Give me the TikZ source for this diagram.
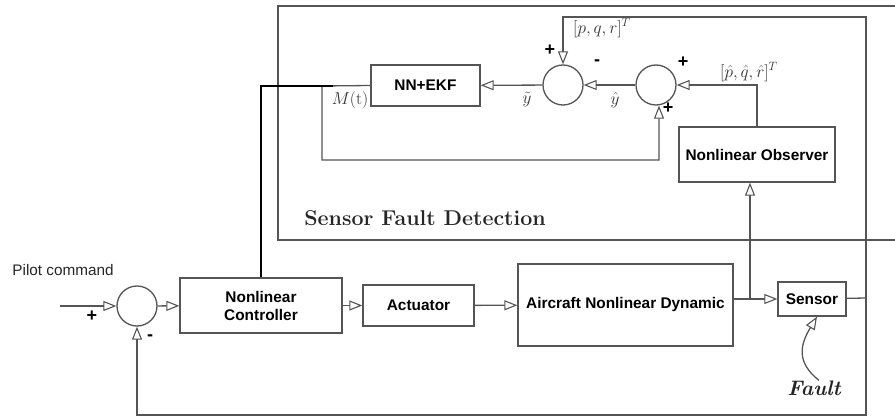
\documentclass[tikz,border=0pt]{standalone}
\usepackage{amsmath,amssymb}
\usepackage{fontspec}
\setsansfont{Liberation Sans}
\usetikzlibrary{arrows.meta,positioning,calc}
\definecolor{linegray}{RGB}{85,85,85}
\tikzset{
 block/.style={rectangle,draw=linegray,line width=1.3pt,fill=white,align=center,font=\sffamily\bfseries\fontsize{15.4}{18}\selectfont,inner sep=0pt},
 sumjn/.style={circle,draw=linegray,line width=1.3pt,minimum size=40pt,inner sep=0pt},
 arrow/.style={-{Triangle[open,length=13pt,width=10pt,line width=1.1pt]},line width=1.3pt,draw=linegray},
 wire/.style={line width=1.3pt,draw=linegray},
 sign/.style={font=\sffamily\bfseries\fontsize{18}{18}\selectfont,inner sep=0pt},
 vec/.style={font=\fontsize{17}{17}\selectfont,inner sep=0pt,text=black!80}}

\begin{document}
\begin{tikzpicture}[x=1pt,y=-1pt]
\useasboundingbox (0,0) rectangle (895,417);
% detection frame
\draw[wire] (895,6) -| (278,240) -- (895,240);
\node[font=\bfseries\fontsize{21.4}{21}\selectfont,text=black!85] (title) at (425,218) {Sensor Fault Detection};
% main loop
\node[sumjn] (sum1) at (137,306) {};
\node[block,minimum width=162pt,minimum height=55pt] (ctrl) at (261,305.5) {Nonlinear\\Controller};
\node[block,minimum width=111pt,minimum height=41pt] (act) at (418.5,305.5) {Actuator};
\node[block,minimum width=215pt,minimum height=82pt] (plant) at (625.5,305) {Aircraft Nonlinear Dynamic};
\node[block,minimum width=68pt,minimum height=34pt] (sensor) at (812,299) {Sensor};
\node[font=\sffamily\fontsize{15.3}{16}\selectfont,inner sep=0pt,text=black!85] (pilot) at (63,270) {Pilot command};
\coordinate (cmd) at (60,306);
\node[sign] (p1) at (92,316) {+};
\node[sign] (m1) at (150,338) {-};
% detection blocks
\node[block,minimum width=156pt,minimum height=55pt] (obs) at (757,154.5) {Nonlinear Observer};
\node[block,minimum width=109pt,minimum height=41pt] (nn) at (425.5,85.5) {NN+EKF};
\node[sumjn] (sum2) at (563,85) {};
\node[sumjn] (sum3) at (656,85) {};
\node[sign] (p2) at (550,50) {+};
\node[sign] (m2) at (597,63) {-};
\node[sign] (p3) at (683,62) {+};
\node[sign] (p4) at (668,108) {+};
\node[vec] (meas) at (602,28) {$[p,q,r]^T$};
\node[vec] (est) at (749,72) {$[\hat{p},\hat{q},\hat{r}]^T$};
\node[vec] (yhat) at (615,100) {$\hat{y}$};
\node[vec] (ytil) at (527,100) {$\tilde{y}$};
\node[vec] (mt) at (350,100) {$M(\mathrm{t})$};
\node[font=\itshape\bfseries\fontsize{21}{21}\selectfont,inner sep=0pt,text=black!85] (fault) at (814,388) {Fault};
\coordinate (br) at (750,298);
\coordinate (tap) at (866,298);
% connectors
\draw[arrow] (cmd) -- (sum1);
\draw[arrow] (sum1) -- (ctrl);
\draw[arrow] (ctrl) -- (act);
\draw[arrow] (act) -- (plant);
\draw[arrow] (plant.east |- sensor) -- (sensor);
\draw[arrow] (br) -- (br |- obs.south);
\draw[wire] (sensor) -- (tap);
\draw[arrow] (tap) -- (866,415) -| (sum1.south);
\draw[arrow] (tap) |- (563,17) -- (sum2.north);
\draw[arrow] (obs.north) |- (sum3.east);
\draw[arrow] (sum3) -- (sum2);
\draw[arrow] (sum2) -- (nn);
\draw[arrow] (nn.west) -- (322,86) |- (659,160) -- (sum3.south -| 659,0);
\draw[line width=2.8pt] (ctrl.north) |- (333,86);
\draw[arrow] ([xshift=5pt]fault.north) .. controls (796,362) and (800,345) .. ([xshift=5pt]sensor.south);
\end{tikzpicture}
\end{document}
